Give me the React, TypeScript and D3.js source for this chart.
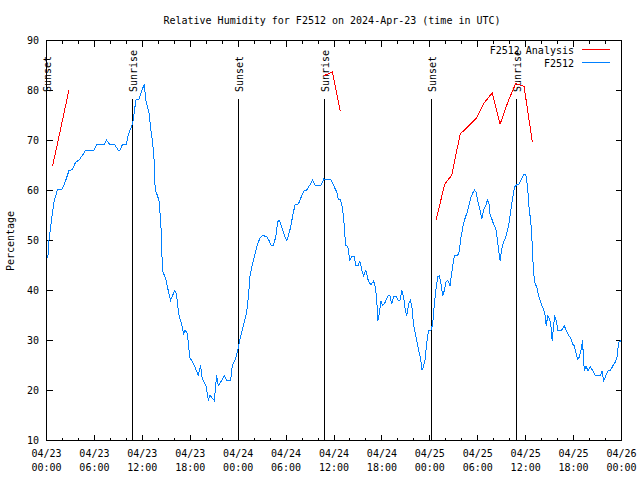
import React from "react";
import * as d3 from "d3";

// Hours after 2024-04-23 00:00 UTC
const BASE_MS = Date.UTC(2024, 3, 23, 0, 0, 0);
const SPAN_HOURS = 72;

const observedHours = [
  0.1, 0.19, 0.31, 0.52, 0.73, 0.94, 1.36, 1.98, 2.4, 2.82, 3.24, 3.66, 4.08, 4.49, 4.92, 5.96, 6.3, 7.21, 7.5, 7.93,
  8.55, 8.97, 9.22, 9.51, 10.01, 10.26, 10.64, 10.85, 11.19, 11.6, 11.94, 12.23, 12.44, 12.86, 13.07, 13.27, 13.48,
  13.61, 13.9, 14.11, 14.32, 14.45, 14.58, 14.95, 15.24, 15.53, 15.78, 16.08, 16.28, 16.41, 16.62, 16.91, 17.16, 17.33,
  17.58, 17.75, 17.92, 18.17, 18.59, 19.0, 19.3, 19.5, 19.97, 20.26, 20.47, 20.76, 21.01, 21.3, 21.51, 21.93, 22.27,
  22.55, 23.06, 23.27, 23.6, 23.9, 24.15, 24.44, 24.77, 25.07, 25.28, 25.49, 25.78, 26.11, 26.44, 26.74, 27.03, 27.57,
  27.87, 28.12, 28.41, 28.7, 28.95, 29.13, 29.45, 29.79, 30.08, 30.29, 30.58, 30.83, 31.13, 31.55, 31.89, 32.26, 32.59,
  33.01, 33.3, 33.64, 34.39, 34.72, 35.6, 35.81, 36.15, 36.35, 36.53, 36.73, 36.94, 37.2, 37.4, 37.48, 37.73, 37.98,
  38.23, 38.53, 38.74, 39.03, 39.24, 39.49, 39.7, 39.99, 40.29, 40.62, 40.96, 41.17, 41.33, 41.5, 41.67, 41.87, 42.09,
  42.3, 42.5, 42.8, 43.0, 43.22, 43.47, 43.75, 44.06, 44.26, 44.5, 44.73, 44.93, 45.1, 45.35, 45.56, 45.76, 45.97,
  46.19, 46.39, 46.6, 46.81, 47.02, 47.19, 47.39, 47.6, 47.82, 48.14, 48.36, 48.57, 48.77, 48.98, 49.2, 49.4, 49.61,
  49.82, 50.03, 50.24, 50.53, 50.78, 51.08, 51.49, 51.7, 51.91, 52.21, 52.46, 52.75, 52.96, 53.16, 53.37, 53.59, 53.79,
  54.04, 54.29, 54.5, 54.71, 55.0, 55.22, 55.42, 55.55, 55.76, 55.97, 56.26, 56.47, 56.6, 56.8, 57.01, 57.22, 57.51,
  57.73, 57.93, 58.14, 58.39, 58.6, 58.89, 59.18, 59.43, 59.73, 60.02, 60.24, 60.44, 60.65, 60.78, 60.98, 61.19, 61.4,
  61.62, 61.82, 62.03, 62.24, 62.44, 62.57, 62.78, 62.99, 63.16, 63.32, 63.5, 63.63, 63.82, 64.04, 64.42, 64.62, 64.83,
  65.08, 65.38, 65.58, 65.88, 66.08, 66.3, 66.51, 66.72, 66.92, 67.05, 67.13, 67.26, 67.38, 67.55, 67.8, 68.09, 68.39,
  68.72, 69.35, 69.56, 69.77, 69.97, 70.27, 70.6, 70.94, 71.22, 71.44, 71.57, 71.65, 72.0,
];
const observedValues = [
  46.5, 47, 50, 52.7, 55.3, 57.7, 60.1, 60.3, 62, 64, 64.2, 65.7, 66.1, 67, 68.1, 68.1, 69.2, 69.2, 70.1, 69.2,
  69.1, 68.1, 68.1, 69.2, 69.2, 71.3, 72.7, 74, 78.1, 78.3, 80, 81.2, 78.1, 75.3, 72, 70, 66,
  60, 59, 57.7, 53.3, 47, 43.7, 42.3, 40, 38, 39, 40, 39.3, 37.3, 34.7, 33.3, 31.3, 32,
  31.7, 29.7, 26.7, 26, 24.7, 23, 25, 22.3, 21, 18.1, 19, 18.5, 18, 23, 21, 22, 23,
  22, 22, 25, 26, 27.7, 29.7, 31.7, 33.7, 35.7, 38.7, 43, 45.3, 47.3, 49.3, 50.5, 51, 50.8,
  50, 49, 49, 50.7, 53.7, 54.1, 52.7, 51, 50, 51, 52.7, 55, 57.2, 57.3, 58.7, 60, 60.1,
  61.2, 62.1, 61.1, 61.1, 62.3, 62.1, 61.6, 60.3, 59.7, 58.3, 58.3, 57.5, 54.7, 50.3, 49, 48.8, 46.1,
  46.8, 46.8, 45, 45, 45.9, 44, 43, 44, 42, 41.1, 41.9, 40.7, 38.7, 34, 35.3, 37.9, 37,
  37.3, 38, 39, 39, 37.3, 38.9, 38.9, 38, 38, 40, 38.5, 36, 35, 37.3, 38, 36.7, 33,
  31.3, 29.7, 28, 26.7, 24.1, 24.7, 26, 29.3, 31.9, 32, 33.3, 37.3, 40.3, 42.7, 43, 41.3, 39,
  40, 41.7, 42, 41, 44, 47, 47, 48, 50.7, 53.3, 54.7, 56, 57.5, 58.7, 59.5, 60.1, 59.7,
  57.7, 56, 54.3, 56, 57, 58.1, 57.3, 55, 54.3, 53.3, 52.3, 50, 48.3, 46, 48.3, 49.7, 50.7,
  52, 53.7, 56, 58.7, 60.7, 61.2, 61.3, 62.1, 63.2, 63.2, 60.7, 56.3, 53.7, 50.3, 43.7, 41.3, 40.7,
  39, 38, 37, 36.3, 35, 33, 35, 34.3, 33, 30, 33, 35, 34, 32, 32, 32.3, 33,
  32, 31, 30.7, 29.3, 29, 27.5, 26.3, 26.7, 28, 29.3, 30, 25.5, 24, 24.8, 24, 24.8, 24,
  23, 23, 23.9, 22, 22.7, 23.9, 24, 25, 25.7, 26.7, 28.7, 29.7, 30,
];

// null marks a gap between analysis runs
const analysisHours = [
  0.75, 1.78, 2.8, 18,
  34.8, 35.8, 36.8, 42,
  48.8, 49.85, 50.75, 51.8, 52.8, 53.8, 54.75, 55.8, 56.8, 57.8, 58.75, 59.8, 60.85,
];
const analysisValues: (number | null)[] = [
  64.8, 72.4, 80, null,
  83.0, 83.7, 75.8, null,
  54.2, 61.2, 63.1, 71.3, 72.8, 74.4, 77.4, 79.5, 73.3, 77.8, 81.4, 80.8, 69.6,
];

const sunEventHours = [0.02, 10.78, 24.06, 34.85, 48.17, 58.84];
const sunEventLabels = ["Sunset", "Sunrise", "Sunset", "Sunrise", "Sunset", "Sunrise"];

const yTickValues = [10, 20, 30, 40, 50, 60, 70, 80, 90];
const titleText = "Relative Humidity for F2512 on 2024-Apr-23 (time in UTC)";
const yAxisTitle = "Percentage";
const seriesNames = ["F2512 Analysis", "F2512"];
const seriesColors = ["#ff0000", "#0080ff"];

const toDate = (h: number) => new Date(BASE_MS + h * 3600e3);

export default function App() {
  const W = 640;
  const H = 480;
  const left = 46.5, right = 621.5, top = 40.5, bottom = 440.5;
  const FONT = "'DejaVu Sans Mono', 'Liberation Mono', monospace";

  const x = d3.scaleUtc().domain([toDate(0), toDate(SPAN_HOURS)]).range([left, right]);
  const y = d3.scaleLinear().domain([10, 90]).range([bottom, top]);

  const obs: [number, number][] = observedHours.map((h, i) => [h, observedValues[i]]);
  const ana: [number, number | null][] = analysisHours.map((h, i) => [h, analysisValues[i]]);

  const obsLine = d3.line<[number, number]>()
    .x((d) => x(toDate(d[0])))
    .y((d) => y(d[1]));
  const anaLine = d3.line<[number, number | null]>()
    .defined((d) => d[1] !== null)
    .x((d) => x(toDate(d[0])))
    .y((d) => y(d[1] as number));

  const allTicks = x.ticks(d3.utcHour.every(2) as d3.TimeInterval);
  const fmtDay = d3.utcFormat("%m/%d");
  const fmtTime = d3.utcFormat("%H:%M");

  return (
    <svg width={W} height={H} style={{ position: "absolute", left: 0, top: 0, background: "#fff" }}
      fontFamily={FONT} fontSize={10}>
      <rect x={0} y={0} width={W} height={H} fill="#fff" />
      <text x={332} y={24} textAnchor="middle">{titleText}</text>

      {/* y ticks */}
      {yTickValues.map((v) => (
        <g key={"y" + v}>
          <line x1={left} x2={left + 6} y1={Math.round(y(v) - 0.5) + 0.5} y2={Math.round(y(v) - 0.5) + 0.5} stroke="#000" shapeRendering="crispEdges" />
          <line x1={right - 6} x2={right} y1={Math.round(y(v) - 0.5) + 0.5} y2={Math.round(y(v) - 0.5) + 0.5} stroke="#000" shapeRendering="crispEdges" />
          <text x={39} y={y(v)} dy="0.35em" textAnchor="end">{v}</text>
        </g>
      ))}

      {/* x ticks */}
      {allTicks.map((t) => {
        const major = t.getUTCHours() % 6 === 0;
        const len = major ? 6 : 3;
        const px = Math.round(x(t) - 0.5) + 0.5;
        return (
          <g key={"x" + t.getTime()}>
            <line x1={px} x2={px} y1={bottom} y2={bottom - len} stroke="#000" shapeRendering="crispEdges" />
            <line x1={px} x2={px} y1={top} y2={top + len} stroke="#000" shapeRendering="crispEdges" />
            {major && (
              <>
                <text x={x(t)} y={457} textAnchor="middle">{fmtDay(t)}</text>
                <text x={x(t)} y={471} textAnchor="middle">{fmtTime(t)}</text>
              </>
            )}
          </g>
        );
      })}

      <text transform={`translate(14,241) rotate(-90)`} textAnchor="middle">{yAxisTitle}</text>

      {/* sun events */}
      {sunEventHours.map((h, i) => {
        const px = Math.round(x(toDate(h)) - 0.5) + 0.5;
        return (
          <g key={"s" + i}>
            <line x1={px} x2={px} y1={99} y2={bottom} stroke="#000" shapeRendering="crispEdges" />
            <text transform={`translate(${px + 1},92) rotate(-90)`} dy="0.35em" textAnchor="start">{sunEventLabels[i]}</text>
          </g>
        );
      })}

      {/* data */}
      <path d={anaLine(ana) || ""} fill="none" stroke={seriesColors[0]} strokeWidth={1} shapeRendering="crispEdges" />
      <path d={obsLine(obs) || ""} fill="none" stroke={seriesColors[1]} strokeWidth={1} shapeRendering="crispEdges" />

      {/* legend */}
      {seriesNames.map((name, i) => (
        <g key={"l" + i}>
          <text x={574} y={54 + i * 13} textAnchor="end">{name}</text>
          <line x1={582} x2={610} y1={49.5 + i * 13} y2={49.5 + i * 13} stroke={seriesColors[i]} shapeRendering="crispEdges" />
        </g>
      ))}

      {/* frame */}
      <rect x={left} y={top} width={right - left} height={bottom - top} fill="none" stroke="#000" shapeRendering="crispEdges" />
    </svg>
  );
}
